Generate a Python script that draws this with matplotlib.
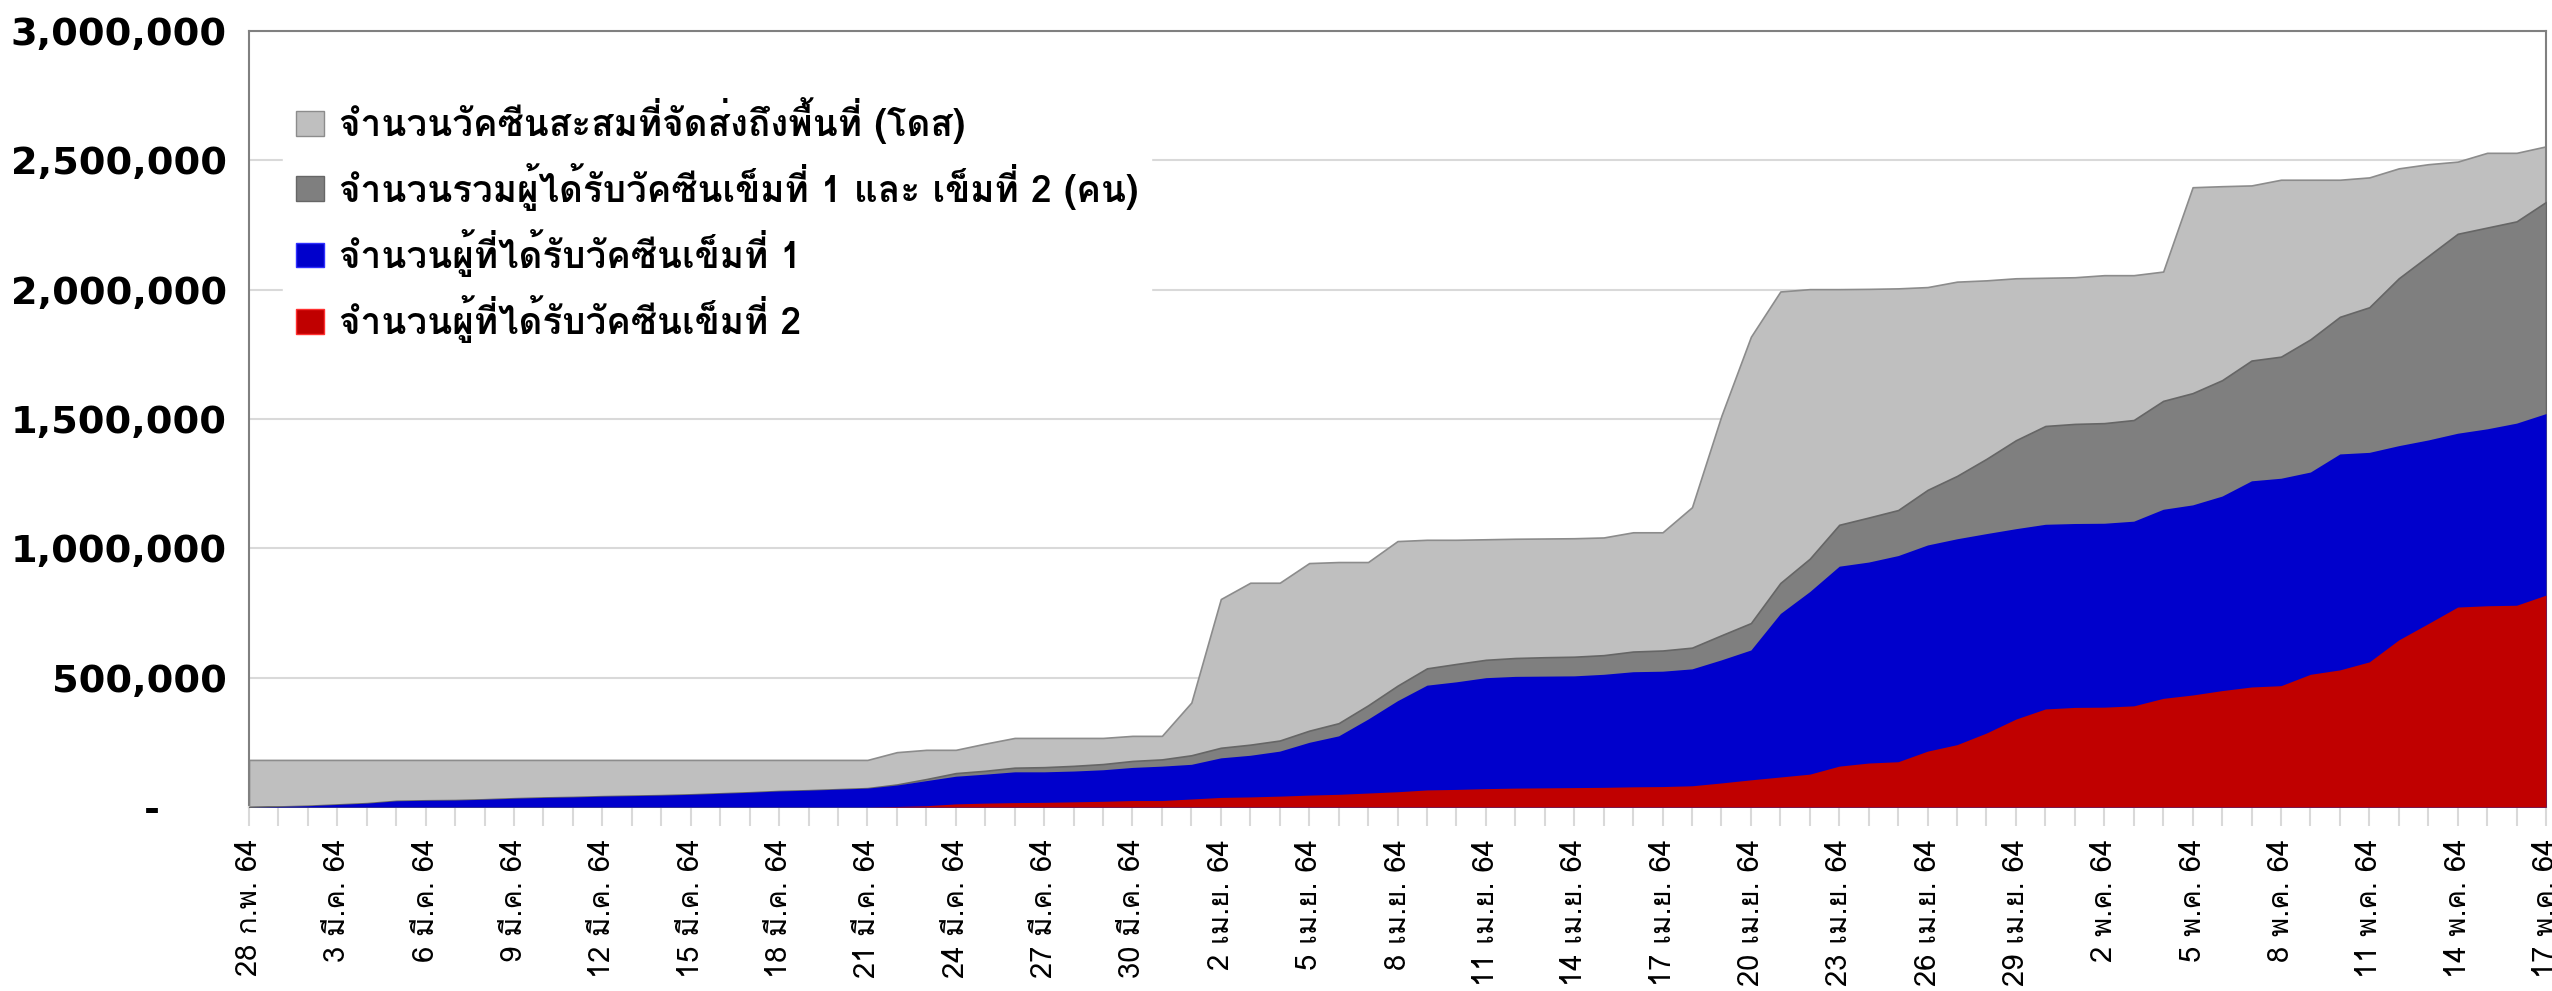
import matplotlib
matplotlib.use('Agg')
import matplotlib.pyplot as plt
from matplotlib import font_manager
from matplotlib.ft2font import FT2Font
from matplotlib.patches import Patch
import numpy as np

# วันที่ 28 ก.พ. 64 ถึง 17 พ.ค. 64 (79 วัน), ป้ายแกน x ทุก 3 วัน
tick_labels = ['28 ก.พ. 64', '3 มี.ค. 64', '6 มี.ค. 64', '9 มี.ค. 64', '12 มี.ค. 64',
               '15 มี.ค. 64', '18 มี.ค. 64', '21 มี.ค. 64', '24 มี.ค. 64', '27 มี.ค. 64',
               '30 มี.ค. 64', '2 เม.ย. 64', '5 เม.ย. 64', '8 เม.ย. 64', '11 เม.ย. 64',
               '14 เม.ย. 64', '17 เม.ย. 64', '20 เม.ย. 64', '23 เม.ย. 64', '26 เม.ย. 64',
               '29 เม.ย. 64', '2 พ.ค. 64', '5 พ.ค. 64', '8 พ.ค. 64', '11 พ.ค. 64',
               '14 พ.ค. 64', '17 พ.ค. 64']

delivered = [182000] * 22 + [
    212000, 221000, 221000, 245000, 267000, 267000, 267000, 267000, 275000, 275000,
    404000, 804000, 867000, 867000, 943000, 947000, 947000, 1028000, 1033000, 1033000,
    1035000, 1037000, 1038000, 1039000, 1042000, 1062000, 1062000, 1159000, 1513000, 1818000,
    1993000, 2002000, 2002000, 2003000, 2005000, 2010000, 2031000, 2036000, 2044000, 2046000,
    2048000, 2056000, 2056000, 2070000, 2396000, 2400000, 2403000, 2425000, 2425000, 2425000,
    2434000, 2469000, 2485000, 2495000, 2529000, 2529000, 2554000]

dose1 = [
    0, 2000, 5000, 10000, 15000, 24000, 26000, 27000, 30000, 34000,
    37000, 39000, 42000, 44000, 46000, 49000, 53000, 57000, 62000, 65000,
    69000, 73000, 85000, 102000, 119000, 127000, 136000, 136000, 139000, 144000,
    153000, 158000, 165000, 190000, 200000, 216000, 250000, 275000, 340000, 411000,
    471000, 484000, 500000, 505000, 506000, 507000, 513000, 523000, 525000, 534000,
    569000, 607000, 748000, 833000, 931000, 947000, 972000, 1013000, 1037000, 1057000,
    1076000, 1093000, 1096000, 1097000, 1105000, 1151000, 1168000, 1202000, 1261000, 1271000,
    1295000, 1365000, 1371000, 1397000, 1419000, 1445000, 1462000, 1484000, 1521000]

dose2 = [0] * 22 + [
    2000, 5000, 12000, 15000, 17000, 18000, 20000, 22000, 25000, 25000,
    31000, 37000, 39000, 42000, 46000, 49000, 54000, 59000, 66000, 68000,
    71000, 73000, 74000, 75000, 76000, 78000, 79000, 82000, 93000, 105000,
    116000, 127000, 158000, 170000, 175000, 216000, 241000, 286000, 340000, 379000,
    385000, 386000, 391000, 420000, 433000, 450000, 464000, 469000, 513000, 530000,
    561000, 646000, 709000, 773000, 778000, 780000, 819000]

total = [
    0, 2000, 5000, 10000, 15000, 24000, 26000, 27000, 30000, 34000,
    37000, 39000, 42000, 44000, 46000, 49000, 53000, 57000, 62000, 65000,
    69000, 73000, 87000, 108000, 131000, 140000, 152000, 154000, 159000, 166000,
    178000, 184000, 200000, 229000, 241000, 257000, 295000, 324000, 393000, 469000,
    536000, 553000, 569000, 576000, 579000, 581000, 587000, 601000, 605000, 616000,
    664000, 711000, 866000, 960000, 1091000, 1119000, 1148000, 1226000, 1280000, 1346000,
    1418000, 1473000, 1481000, 1484000, 1496000, 1570000, 1600000, 1650000, 1726000, 1741000,
    1808000, 1895000, 1932000, 2044000, 2130000, 2216000, 2240000, 2264000, 2339000]

legend_labels = ['จำนวนวัคซีนสะสมที่จัดส่งถึงพื้นที่ (โดส)',
                 'จำนวนรวมผู้ได้รับวัคซีนเข็มที่ 1 และ เข็มที่ 2 (คน)',
                 'จำนวนผู้ที่ได้รับวัคซีนเข็มที่ 1',
                 'จำนวนผู้ที่ได้รับวัคซีนเข็มที่ 2']


def thai_font():
    prefer = ['Tahoma', 'Loma', 'Noto Sans Thai Looped', 'Noto Sans Thai',
              'Garuda', 'Sarabun', 'Leelawadee UI']
    found = {}
    for f in font_manager.fontManager.ttflist:
        try:
            cmap = FT2Font(f.fname).get_charmap()
        except Exception:
            continue
        if 0x0E08 in cmap:
            found.setdefault(f.name, f.fname)
    for name in prefer:
        if name in found:
            return name
    if found:
        return sorted(found)[0]
    names = sorted(set(f.name for f in font_manager.fontManager.ttflist))
    raise RuntimeError('no thai font: ' + ', '.join(names))


thai = thai_font()
plt.rcParams['font.family'] = [thai, 'DejaVu Sans']

x = np.arange(len(dose1))

fig = plt.figure(figsize=(25.52, 9.91), dpi=100)
ax = fig.add_axes([249 / 2552, 1 - 807 / 991, 2297 / 2552, 776 / 991])

ax.fill_between(x, delivered, color='#BFBFBF', edgecolor='#8C8C8C', linewidth=1.2, zorder=2)
ax.fill_between(x, total, color='#7F7F7F', edgecolor='#666666', linewidth=1.2, zorder=3)
ax.fill_between(x, dose1, color='#0000CC', linewidth=0, zorder=4)
ax.fill_between(x, dose2, color='#C00000', linewidth=0, zorder=5)

ax.set_xlim(0, len(x) - 1)
ax.set_ylim(0, 3000000)

# รูปแบบบัญชี: ศูนย์แสดงเป็น "-" เว้นระยะทางขวา
ax.set_yticks(np.arange(0, 3000001, 500000))
ax.set_yticklabels(['-     '] + ['{:,}'.format(v) for v in range(500000, 3000001, 500000)],
                   fontsize=27.5, family='DejaVu Sans', weight='bold')
ax.grid(axis='y', color='#D9D9D9', linewidth=1.5, zorder=0)
ax.set_axisbelow(True)

ax.set_xticks(x[::3])
ax.set_xticklabels(tick_labels, rotation=90, fontsize=21)
ax.set_xticks(x, minor=True)
ax.tick_params(axis='x', which='both', length=14, color='#D9D9D9', width=1.5, pad=9)
ax.tick_params(axis='y', length=0, pad=16)

for side in ['left', 'top', 'right']:
    ax.spines[side].set_color('#808080')
    ax.spines[side].set_linewidth(1.5)
ax.spines['bottom'].set_color('#D9D9D9')
ax.spines['bottom'].set_linewidth(1.5)

handles = [Patch(facecolor='#BFBFBF', edgecolor='#8C8C8C'),
           Patch(facecolor='#7F7F7F', edgecolor='#666666'),
           Patch(facecolor='#0000CC', edgecolor='#3030FF'),
           Patch(facecolor='#C00000', edgecolor='#FF3030')]
leg = ax.legend(handles, legend_labels, loc='upper left', bbox_to_anchor=(0.007, 0.955),
                prop={'size': 26.5, 'weight': 'bold'}, frameon=True, fancybox=False,
                facecolor='white', edgecolor='white', framealpha=1,
                handlelength=0.76, handleheight=0.65, handletextpad=0.4,
                labelspacing=0.5, borderpad=0.35)
leg.set_zorder(6)

fig.savefig('out.png', dpi=100)
